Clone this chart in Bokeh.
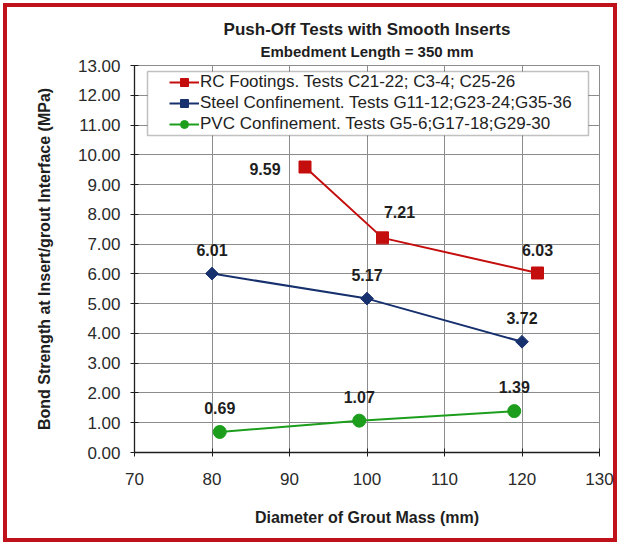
import math
from bokeh.plotting import figure
from bokeh.models import (Range1d, FixedTicker, NumeralTickFormatter, Legend,
                          LegendItem, BoxAnnotation, Title)
from bokeh.core.properties import value
from bokeh.embed import file_html
from bokeh.resources import INLINE

# ---------------- data ----------------
RC_X = [92, 102, 122]
RC_Y = [9.59, 7.21, 6.03]
STEEL_X = [80, 100, 120]
STEEL_Y = [6.01, 5.17, 3.72]
PVC_X = [81, 99, 119]
PVC_Y = [0.69, 1.07, 1.39]

X_TICKS = [70, 80, 90, 100, 110, 120, 130]
Y_TICKS = [0, 1, 2, 3, 4, 5, 6, 7, 8, 9, 10, 11, 12, 13]

SERIES_NAMES = [
    "RC Footings. Tests C21-22; C3-4; C25-26",
    "Steel Confinement. Tests G11-12;G23-24;G35-36",
    "PVC Confinement. Tests G5-6;G17-18;G29-30",
]
TITLE = "Push-Off Tests with Smooth Inserts"
SUBTITLE = "Embedment Length = 350 mm"
X_LABEL = "Diameter of Grout Mass (mm)"
Y_LABEL = "Bond Strength at Insert/grout Interface (MPa)"

# ---------------- styles ----------------
FONT = "Liberation Sans"
RED = "#c40d0d"
BLUE = "#17306e"
GREEN = "#1c9e1c"
GRID = "#8c8c8c"
TXT = "#1e1e1e"

RC_LABEL_DX = [-40, 17, 0]
RC_LABEL_DY = [2, -26, -23]

p = figure(width=620, height=545, x_range=Range1d(70, 130), y_range=Range1d(0, 13),
           output_backend="svg", toolbar_location=None, title=None,
           min_border_left=134, min_border_right=21, min_border_top=65,
           min_border_bottom=93)
p.border_fill_alpha = 0
p.background_fill_color = "white"
p.outline_line_color = GRID
p.outline_line_width = 1
p.styles = {"background-color": "white",
            "box-shadow": "inset 0 0 0 3px white, inset 0 0 0 7px #c0121b"}

# titles (first added = closest to the frame)
p.add_layout(Title(text=SUBTITLE, align="center", vertical_align="top", text_font=FONT,
                   text_font_size="15px", text_font_style="bold", text_color=TXT,
                   standoff=7), "above")
p.add_layout(Title(text=TITLE, align="center", text_font=FONT, text_font_size="17px",
                   text_font_style="bold", text_color=TXT, standoff=2), "above")

# axes
for ax in (p.xaxis[0], p.yaxis[0]):
    ax.axis_line_color = TXT
    ax.axis_line_width = 1.3
    ax.major_tick_line_color = TXT
    ax.major_tick_in = 4
    ax.major_tick_out = 4
    ax.minor_tick_line_color = None
    ax.major_label_text_font = FONT
    ax.major_label_text_font_size = "17px"
    ax.major_label_text_color = "#2a2a2a"
    ax.axis_label_text_font = FONT
    ax.axis_label_text_font_style = "bold"
    ax.axis_label_text_color = TXT

p.xaxis.ticker = FixedTicker(ticks=X_TICKS)
p.yaxis.ticker = FixedTicker(ticks=Y_TICKS)
p.yaxis.formatter = NumeralTickFormatter(format="0.00")
p.xaxis.axis_label = X_LABEL
p.yaxis.axis_label = Y_LABEL
p.xaxis.axis_label_text_font_size = "16px"
p.yaxis.axis_label_text_font_size = "16px"
p.xaxis.major_label_standoff = 16
p.xaxis.axis_label_standoff = 21
p.yaxis.major_label_standoff = 10
p.yaxis.axis_label_standoff = 22

p.xgrid.ticker = FixedTicker(ticks=X_TICKS)
p.ygrid.ticker = FixedTicker(ticks=Y_TICKS)
p.xgrid.grid_line_color = GRID
p.ygrid.grid_line_color = GRID
p.xgrid.grid_line_width = 1
p.ygrid.grid_line_width = 1

# series
r_line = p.line(RC_X, RC_Y, line_color=RED, line_width=2)
r_mark = p.scatter(RC_X, RC_Y, marker="square", size=12, fill_color=RED, line_color=RED)
s_line = p.line(STEEL_X, STEEL_Y, line_color=BLUE, line_width=2)
s_mark = p.scatter(STEEL_X, STEEL_Y, marker="square", angle=math.pi / 4, size=9,
                   fill_color=BLUE, line_color=BLUE)
g_line = p.line(PVC_X, PVC_Y, line_color=GREEN, line_width=2)
g_mark = p.scatter(PVC_X, PVC_Y, marker="circle", size=13, fill_color=GREEN, line_color=GREEN)

# data labels
lbl = dict(text_font=value(FONT), text_font_size="16px", text_font_style="bold",
           text_color=TXT, text_align="center", text_baseline="middle")
p.text(RC_X, RC_Y, text=[f"{v:.2f}" for v in RC_Y], x_offset=RC_LABEL_DX,
       y_offset=RC_LABEL_DY, **lbl)
p.text(STEEL_X, STEEL_Y, text=[f"{v:.2f}" for v in STEEL_Y], y_offset=-24, **lbl)
p.text(PVC_X, PVC_Y, text=[f"{v:.2f}" for v in PVC_Y], y_offset=-24, **lbl)

# legend box + legend
box = BoxAnnotation(left=13, right=454, top=381, bottom=317,
                    left_units="screen", right_units="screen",
                    top_units="screen", bottom_units="screen",
                    fill_color="white", fill_alpha=1.0,
                    line_color="#333333", line_width=1.5)
p.add_layout(box)

legend = Legend(items=[
    LegendItem(label=SERIES_NAMES[0], renderers=[r_line, r_mark]),
    LegendItem(label=SERIES_NAMES[1], renderers=[s_line, s_mark]),
    LegendItem(label=SERIES_NAMES[2], renderers=[g_line, g_mark]),
], location=(35, 318), padding=0, spacing=1, margin=0,
    label_height=20, glyph_height=20, glyph_width=30, label_standoff=1,
    label_text_font=FONT, label_text_font_size="17px", label_text_color="#222222",
    border_line_alpha=0, background_fill_alpha=0)
p.add_layout(legend)

open("out.html", "w").write(file_html(p, INLINE))
